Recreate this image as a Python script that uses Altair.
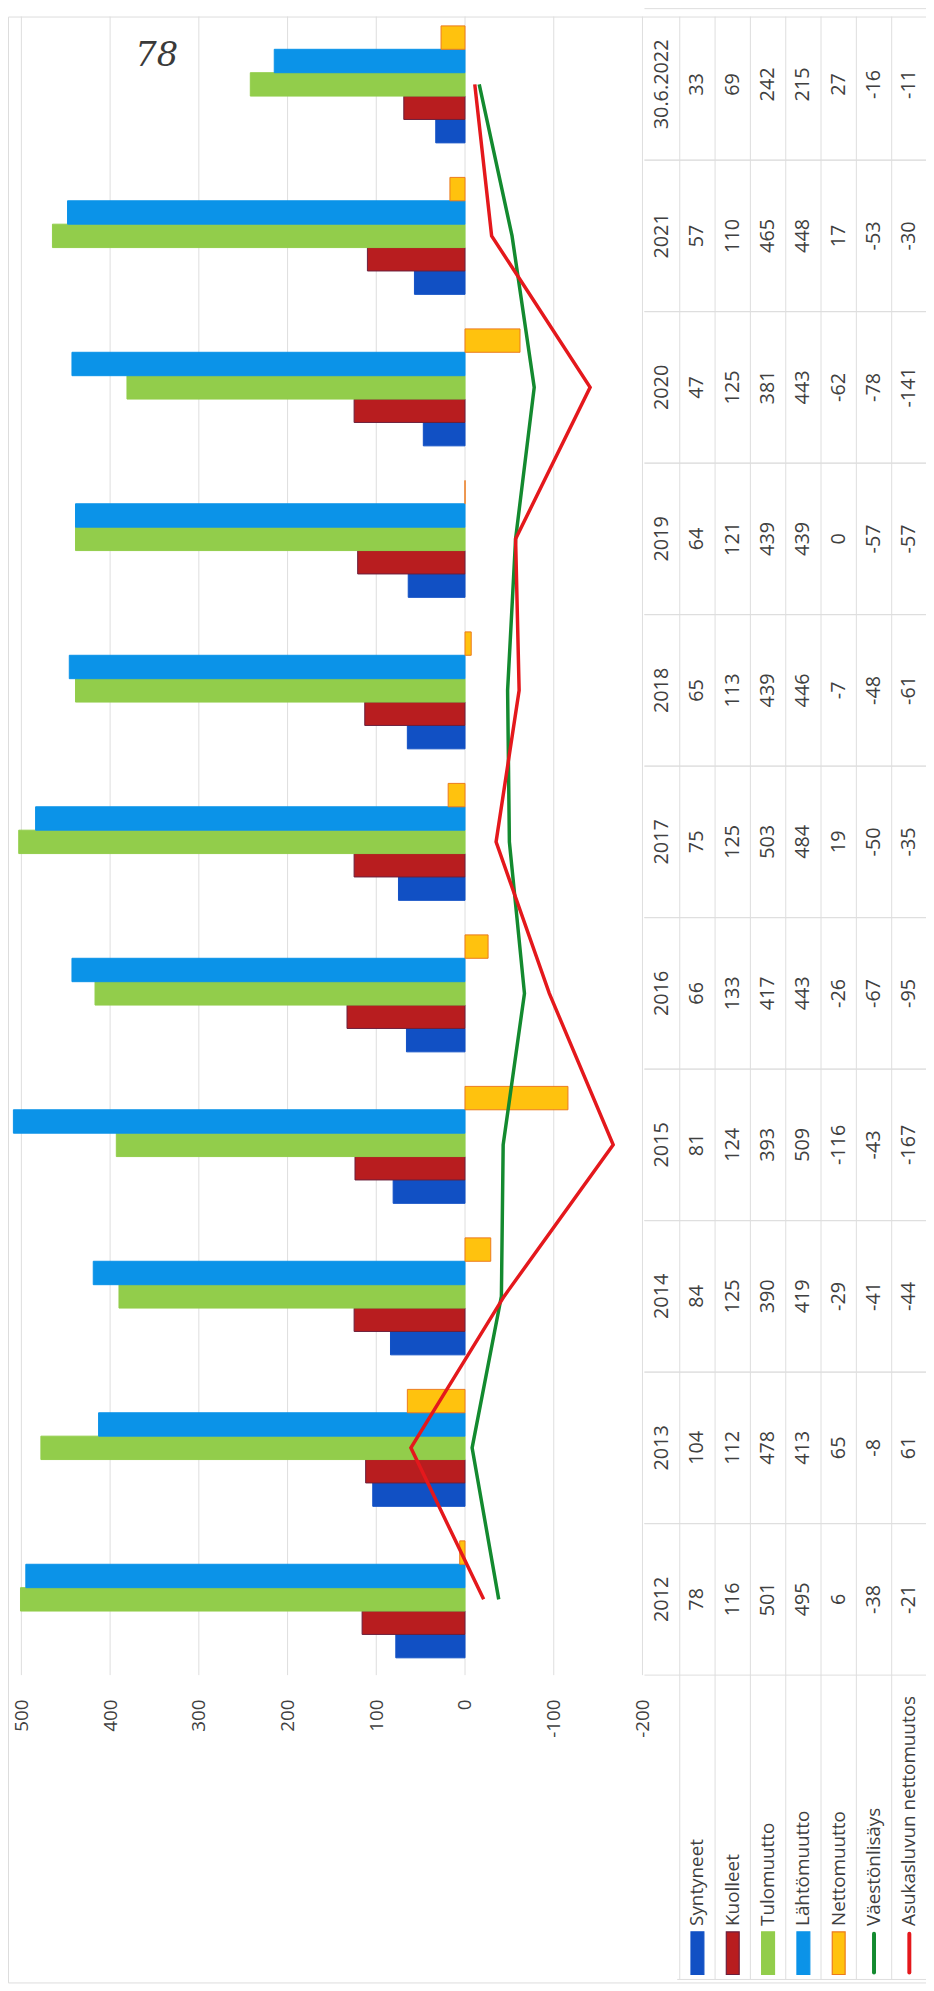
import altair as alt
import pandas as pd

# ---------------- data ----------------
categories = ["2012", "2013", "2014", "2015", "2016", "2017", "2018", "2019", "2020", "2021", "30.6.2022"]
bar_series = ["Syntyneet", "Kuolleet", "Tulomuutto", "Lähtömuutto", "Nettomuutto"]
line_series = ["Väestönlisäys", "Asukasluvun nettomuutos"]

syntyneet = [78, 104, 84, 81, 66, 75, 65, 64, 47, 57, 33]
kuolleet = [116, 112, 125, 124, 133, 125, 113, 121, 125, 110, 69]
tulomuutto = [501, 478, 390, 393, 417, 503, 439, 439, 381, 465, 242]
lahtomuutto = [495, 413, 419, 509, 443, 484, 446, 439, 443, 448, 215]
nettomuutto = [6, 65, -29, -116, -26, 19, -7, 0, -62, 17, 27]
vaestonlisays = [-38, -8, -41, -43, -67, -50, -48, -57, -78, -53, -16]
asukasluvun_nettomuutos = [-21, 61, -44, -167, -95, -35, -61, -57, -141, -30, -11]

tick_values = [500, 400, 300, 200, 100, 0, -100, -200]
page_number = "78"

bar_colors = ["#1150c4", "#b81d1f", "#92cd4b", "#0b93e8", "#ffc20e"]
bar_strokes = ["#1150c4", "#6a1f3c", "#92cd4b", "#0b93e8", "#ec7a1c"]
line_colors = ["#138a2f", "#e4181c"]

# ---------------- tables for the library ----------------
bar_values = [syntyneet, kuolleet, tulomuutto, lahtomuutto, nettomuutto]
line_values = [vaestonlisays, asukasluvun_nettomuutos]

bars_df = pd.DataFrame(
    [{"category": c, "series": s, "value": vals[i]}
     for s, vals in zip(bar_series, bar_values) for i, c in enumerate(categories)]
)
lines_df = pd.DataFrame(
    [{"category": c, "series": s, "value": vals[i], "idx": i}
     for s, vals in zip(line_series, line_values) for i, c in enumerate(categories)]
)
col_keys = ["_cat"] + bar_series + line_series
table_rows = []
for i, c in enumerate(categories):
    table_rows.append({"category": c, "col": "_cat", "label": c})
    for s, vals in zip(bar_series + line_series, bar_values + line_values):
        table_rows.append({"category": c, "col": s, "label": str(vals[i])})
table_df = pd.DataFrame(table_rows)
cat_df = pd.DataFrame({"category": categories})
grid_df = pd.DataFrame({"t": tick_values})
legend_bar_df = pd.DataFrame({"series": bar_series})
legend_line_df = pd.DataFrame({"series": line_series})
legend_all_df = pd.DataFrame({"series": bar_series + line_series})

# ---------------- layout (chart pixel coordinates) ----------------
W, H = 926, 1983
PLOT_BOTTOM = 1673
VAL_RANGE = [13.5, 640]
CAT_RANGE = [-8, PLOT_BOTTOM]
TAB_RANGE = [642, 927]
LEG_BOTTOM = 1980
FONT = "Open Sans"
FS = 19
FS_TAB = 20
TXT = "#404040"
GRID = "#dedede"

xval = alt.Scale(domain=[500, -200], range=VAL_RANGE, nice=False, zero=False)
ycat = alt.Scale(domain=categories[::-1], range=CAT_RANGE, paddingInner=0.228, paddingOuter=0.114)
ycat_tab = alt.Scale(domain=categories[::-1], range=CAT_RANGE, paddingInner=0, paddingOuter=0)
xtab = alt.Scale(domain=col_keys, range=TAB_RANGE, paddingInner=0, paddingOuter=0)

grid = alt.Chart(grid_df).mark_rule(color=GRID, strokeWidth=1).encode(
    x=alt.X("t:Q", scale=xval, axis=None),
    y=alt.value(0),
    y2=alt.value(PLOT_BOTTOM),
)

bars = alt.Chart(bars_df).mark_bar(strokeWidth=1).encode(
    x=alt.X(
        "value:Q", scale=xval, stack=None, title=None,
        axis=alt.Axis(
            values=tick_values, orient="bottom", offset=-(H - PLOT_BOTTOM),
            labelAngle=270, labelPadding=24, ticks=False, domain=False, grid=False,
            labelFont=FONT, labelFontSize=FS, labelColor=TXT, labelOverlap=False,
            labelBound=False, labelFlush=False, labelExpr="'' + datum.value",
        ),
    ),
    x2=alt.datum(0),
    y=alt.Y("category:N", scale=ycat, axis=None),
    yOffset=alt.YOffset("series:N", scale=alt.Scale(domain=bar_series[::-1], paddingInner=0, paddingOuter=0)),
    color=alt.Color("series:N", scale=alt.Scale(domain=bar_series, range=bar_colors), legend=None),
    stroke=alt.Stroke("series:N", scale=alt.Scale(domain=bar_series, range=bar_strokes), legend=None),
)

lines = alt.Chart(lines_df).mark_line(strokeWidth=3.5).encode(
    x=alt.X("value:Q", scale=xval, axis=None),
    y=alt.Y("category:N", scale=ycat, axis=None),
    color=alt.Color("series:N", scale=alt.Scale(domain=line_series, range=line_colors), legend=None),
    order=alt.Order("idx:Q"),
)

hlines0 = alt.Chart(cat_df).mark_rule(color=GRID, strokeWidth=1).encode(
    y=alt.Y("category:N", scale=ycat_tab, bandPosition=0, axis=None),
    x=alt.value(TAB_RANGE[0]),
    x2=alt.value(TAB_RANGE[1]),
)
hlines1 = alt.Chart(cat_df).mark_rule(color=GRID, strokeWidth=1).encode(
    y=alt.Y("category:N", scale=ycat_tab, bandPosition=1, axis=None),
    x=alt.value(TAB_RANGE[0]),
    x2=alt.value(TAB_RANGE[1]),
)
vlines = alt.Chart(legend_all_df).mark_rule(color=GRID, strokeWidth=1).encode(
    x=alt.X("series:N", scale=xtab, bandPosition=0, axis=None),
    y=alt.value(0),
    y2=alt.value(LEG_BOTTOM),
)
legend_bottom = alt.Chart(cat_df.head(1)).mark_rule(color=GRID, strokeWidth=1).encode(
    x=alt.value(675), x2=alt.value(TAB_RANGE[1]), y=alt.value(LEG_BOTTOM)
)

table_text = alt.Chart(table_df).mark_text(
    angle=270, align="center", baseline="middle", font=FONT, fontSize=FS_TAB, color=TXT
).encode(
    x=alt.X("col:N", scale=xtab, axis=None),
    y=alt.Y("category:N", scale=ycat_tab, axis=None),
    text="label:N",
)

legend_bars = alt.Chart(legend_bar_df).mark_bar(width=13, strokeWidth=1.2).encode(
    x=alt.X("series:N", scale=xtab, axis=None),
    y=alt.value(1932),
    y2=alt.value(1975),
    color=alt.Color("series:N", scale=alt.Scale(domain=bar_series, range=bar_colors), legend=None),
    stroke=alt.Stroke("series:N", scale=alt.Scale(domain=bar_series, range=bar_strokes), legend=None),
)
legend_lines = alt.Chart(legend_line_df).mark_rule(strokeWidth=4, strokeCap="round").encode(
    x=alt.X("series:N", scale=xtab, axis=None),
    y=alt.value(1934),
    y2=alt.value(1973),
    color=alt.Color("series:N", scale=alt.Scale(domain=line_series, range=line_colors), legend=None),
)
legend_text = alt.Chart(legend_all_df).mark_text(
    angle=270, align="left", baseline="middle", font=FONT, fontSize=FS, color=TXT
).encode(
    x=alt.X("series:N", scale=xtab, axis=None),
    y=alt.value(1926),
    text="series:N",
)

page_no = alt.Chart(cat_df.head(1)).mark_text(
    font="DejaVu Serif", fontStyle="italic", fontSize=34, color="#3a3a3a", align="center", baseline="middle"
).encode(x=alt.value(150), y=alt.value(40), text=alt.value(page_number))

chart = alt.layer(
    grid, bars, lines, hlines0, hlines1, vlines, legend_bottom, table_text,
    legend_bars, legend_lines, legend_text, page_no,
).resolve_scale(
    x="independent", y="independent", color="independent", stroke="independent"
).properties(
    width=W, height=H, padding=0, autosize=alt.AutoSizeParams(type="none")
).configure_view(stroke=None).configure(background="white")

chart.save("out.html", embed_options={"renderer": "svg", "actions": False})
